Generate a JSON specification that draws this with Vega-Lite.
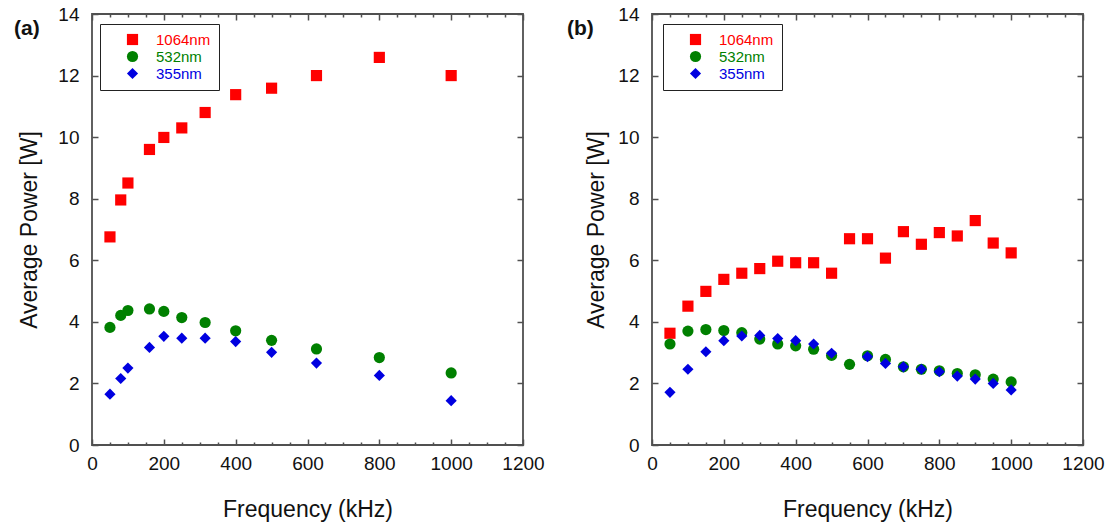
{
  "$schema": "https://vega.github.io/schema/vega-lite/v6.json",
  "padding": {"left": 13, "top": 4, "right": 5, "bottom": 5},
  "background": "white",
  "config": {
    "font": "Liberation Sans",
    "view": {"stroke": "#505050", "strokeWidth": 1.8},
    "axis": {"grid": false, "domain": false, "tickColor": "#505050", "tickWidth": 1.5, "labelColor": "#111", "labelFontSize": 19, "labelFont": "Liberation Sans", "titleColor": "#111", "titleFontSize": 23, "titleFontWeight": "normal", "titleFont": "Liberation Sans", "labelFlush": false, "labelOverlap": false},
    "legend": {"title": null, "orient": "none", "legendY": 10, "padding": 8, "symbolOffset": 17, "labelOffset": 16, "labelFontSize": 15, "symbolSize": 125, "rowPadding": 1, "strokeColor": "#222", "labelFont": "Liberation Sans",
      "labelColor": {"expr": "datum.value === '1064nm' ? '#ff0000' : datum.value === '532nm' ? '#008000' : '#0000e0'"}}
  },
  "datasets": {
    "a": [
      {"f": 50, "p": 6.76, "wl": "1064nm"}, {"f": 80, "p": 7.96, "wl": "1064nm"}, {"f": 100, "p": 8.51, "wl": "1064nm"}, {"f": 160, "p": 9.6, "wl": "1064nm"}, {"f": 200, "p": 9.99, "wl": "1064nm"}, {"f": 250, "p": 10.3, "wl": "1064nm"}, {"f": 315, "p": 10.8, "wl": "1064nm"}, {"f": 400, "p": 11.38, "wl": "1064nm"}, {"f": 500, "p": 11.59, "wl": "1064nm"}, {"f": 625, "p": 12.0, "wl": "1064nm"}, {"f": 800, "p": 12.59, "wl": "1064nm"}, {"f": 1000, "p": 12.0, "wl": "1064nm"},
      {"f": 50, "p": 3.82, "wl": "532nm"}, {"f": 80, "p": 4.21, "wl": "532nm"}, {"f": 100, "p": 4.37, "wl": "532nm"}, {"f": 160, "p": 4.42, "wl": "532nm"}, {"f": 200, "p": 4.34, "wl": "532nm"}, {"f": 250, "p": 4.14, "wl": "532nm"}, {"f": 315, "p": 3.98, "wl": "532nm"}, {"f": 400, "p": 3.71, "wl": "532nm"}, {"f": 500, "p": 3.4, "wl": "532nm"}, {"f": 625, "p": 3.12, "wl": "532nm"}, {"f": 800, "p": 2.84, "wl": "532nm"}, {"f": 1000, "p": 2.34, "wl": "532nm"},
      {"f": 50, "p": 1.65, "wl": "355nm"}, {"f": 80, "p": 2.16, "wl": "355nm"}, {"f": 100, "p": 2.5, "wl": "355nm"}, {"f": 160, "p": 3.17, "wl": "355nm"}, {"f": 200, "p": 3.53, "wl": "355nm"}, {"f": 250, "p": 3.47, "wl": "355nm"}, {"f": 315, "p": 3.47, "wl": "355nm"}, {"f": 400, "p": 3.36, "wl": "355nm"}, {"f": 500, "p": 3.01, "wl": "355nm"}, {"f": 625, "p": 2.66, "wl": "355nm"}, {"f": 800, "p": 2.26, "wl": "355nm"}, {"f": 1000, "p": 1.44, "wl": "355nm"}
    ],
    "b": [
      {"f": 50, "p": 3.63, "wl": "1064nm"}, {"f": 100, "p": 4.51, "wl": "1064nm"}, {"f": 150, "p": 4.99, "wl": "1064nm"}, {"f": 200, "p": 5.38, "wl": "1064nm"}, {"f": 250, "p": 5.58, "wl": "1064nm"}, {"f": 300, "p": 5.73, "wl": "1064nm"}, {"f": 350, "p": 5.97, "wl": "1064nm"}, {"f": 400, "p": 5.92, "wl": "1064nm"}, {"f": 450, "p": 5.92, "wl": "1064nm"}, {"f": 500, "p": 5.58, "wl": "1064nm"}, {"f": 550, "p": 6.7, "wl": "1064nm"}, {"f": 600, "p": 6.7, "wl": "1064nm"}, {"f": 650, "p": 6.07, "wl": "1064nm"}, {"f": 700, "p": 6.93, "wl": "1064nm"}, {"f": 750, "p": 6.52, "wl": "1064nm"}, {"f": 800, "p": 6.9, "wl": "1064nm"}, {"f": 850, "p": 6.79, "wl": "1064nm"}, {"f": 900, "p": 7.29, "wl": "1064nm"}, {"f": 950, "p": 6.56, "wl": "1064nm"}, {"f": 1000, "p": 6.24, "wl": "1064nm"},
      {"f": 50, "p": 3.28, "wl": "532nm"}, {"f": 100, "p": 3.7, "wl": "532nm"}, {"f": 150, "p": 3.75, "wl": "532nm"}, {"f": 200, "p": 3.72, "wl": "532nm"}, {"f": 250, "p": 3.65, "wl": "532nm"}, {"f": 300, "p": 3.44, "wl": "532nm"}, {"f": 350, "p": 3.28, "wl": "532nm"}, {"f": 400, "p": 3.22, "wl": "532nm"}, {"f": 450, "p": 3.11, "wl": "532nm"}, {"f": 500, "p": 2.91, "wl": "532nm"}, {"f": 550, "p": 2.62, "wl": "532nm"}, {"f": 600, "p": 2.9, "wl": "532nm"}, {"f": 650, "p": 2.78, "wl": "532nm"}, {"f": 700, "p": 2.54, "wl": "532nm"}, {"f": 750, "p": 2.46, "wl": "532nm"}, {"f": 800, "p": 2.41, "wl": "532nm"}, {"f": 850, "p": 2.32, "wl": "532nm"}, {"f": 900, "p": 2.28, "wl": "532nm"}, {"f": 950, "p": 2.14, "wl": "532nm"}, {"f": 1000, "p": 2.05, "wl": "532nm"},
      {"f": 50, "p": 1.71, "wl": "355nm"}, {"f": 100, "p": 2.46, "wl": "355nm"}, {"f": 150, "p": 3.03, "wl": "355nm"}, {"f": 200, "p": 3.39, "wl": "355nm"}, {"f": 250, "p": 3.54, "wl": "355nm"}, {"f": 300, "p": 3.56, "wl": "355nm"}, {"f": 350, "p": 3.46, "wl": "355nm"}, {"f": 400, "p": 3.39, "wl": "355nm"}, {"f": 450, "p": 3.28, "wl": "355nm"}, {"f": 500, "p": 2.98, "wl": "355nm"}, {"f": 600, "p": 2.87, "wl": "355nm"}, {"f": 650, "p": 2.65, "wl": "355nm"}, {"f": 700, "p": 2.54, "wl": "355nm"}, {"f": 750, "p": 2.46, "wl": "355nm"}, {"f": 800, "p": 2.38, "wl": "355nm"}, {"f": 850, "p": 2.24, "wl": "355nm"}, {"f": 900, "p": 2.14, "wl": "355nm"}, {"f": 950, "p": 2.0, "wl": "355nm"}, {"f": 1000, "p": 1.79, "wl": "355nm"}
    ]
  },
  "spacing": 20,
  "resolve": {"scale": {"color": "independent", "shape": "independent", "size": "independent"}, "legend": {"color": "independent", "shape": "independent"}},
  "hconcat": [
    {
      "title": {"text": "(a)", "anchor": "start", "frame": "group", "orient": "top", "offset": -34, "dx": -78, "fontSize": 21, "fontWeight": "bold", "color": "#111", "font": "Liberation Sans"},
      "width": 431, "height": 431,
      "data": {"name": "a"},
      "layer": [
        {
          "mark": {"type": "point", "filled": true, "opacity": 1},
          "encoding": {
            "x": {"field": "f", "type": "quantitative", "scale": {"domain": [0, 1200], "nice": false, "zero": true},
              "axis": {"orient": "bottom", "format": "d", "values": [0, 50, 100, 150, 200, 250, 300, 350, 400, 450, 500, 550, 600, 650, 700, 750, 800, 850, 900, 950, 1000, 1050, 1100, 1150, 1200], "labelExpr": "datum.value % 200 === 0 ? datum.label : ''", "tickSize": {"condition": {"test": "datum.value % 200 === 0", "value": -6}, "value": -3}, "labelPadding": 15, "title": "Frequency (kHz)", "titlePadding": 22}},
            "y": {"field": "p", "type": "quantitative", "scale": {"domain": [0, 14], "nice": false},
              "axis": {"orient": "left", "values": [0, 2, 4, 6, 8, 10, 12, 14], "tickSize": -6, "labelPadding": 19, "title": "Average Power [W]", "titlePadding": 16}},
            "color": {"field": "wl", "type": "nominal", "scale": {"domain": ["1064nm", "532nm", "355nm"], "range": ["#ff0000", "#008000", "#0000e0"]},
              "legend": {"legendX": 8, "labelColor": {"expr": "datum.value === '1064nm' ? '#ff0000' : datum.value === '532nm' ? '#008000' : '#0000e0'"}}},
            "shape": {"field": "wl", "type": "nominal", "scale": {"domain": ["1064nm", "532nm", "355nm"], "range": ["square", "circle", "diamond"]},
              "legend": {"legendX": 8, "labelColor": {"expr": "datum.value === '1064nm' ? '#ff0000' : datum.value === '532nm' ? '#008000' : '#0000e0'"}}},
            "size": {"field": "wl", "type": "nominal", "scale": {"domain": ["1064nm", "532nm", "355nm"], "range": [125, 125, 100]}, "legend": null}
          }
        },
        {
          "mark": {"type": "point", "opacity": 0},
          "encoding": {
            "x": {"field": "f", "type": "quantitative", "axis": {"orient": "top", "values": [0, 50, 100, 150, 200, 250, 300, 350, 400, 450, 500, 550, 600, 650, 700, 750, 800, 850, 900, 950, 1000, 1050, 1100, 1150, 1200], "labels": false, "title": null, "tickSize": {"condition": {"test": "datum.value % 200 === 0", "value": -6}, "value": -3}}},
            "y": {"field": "p", "type": "quantitative", "axis": {"orient": "right", "values": [0, 2, 4, 6, 8, 10, 12, 14], "labels": false, "title": null, "tickSize": -6}}
          }
        }
      ],
      "resolve": {"axis": {"x": "independent", "y": "independent"}}
    },
    {
      "title": {"text": "(b)", "anchor": "start", "frame": "group", "orient": "top", "offset": -34, "dx": -85, "fontSize": 21, "fontWeight": "bold", "color": "#111", "font": "Liberation Sans"},
      "width": 431, "height": 431,
      "data": {"name": "b"},
      "layer": [
        {
          "mark": {"type": "point", "filled": true, "opacity": 1},
          "encoding": {
            "x": {"field": "f", "type": "quantitative", "scale": {"domain": [0, 1200], "nice": false, "zero": true},
              "axis": {"orient": "bottom", "format": "d", "values": [0, 50, 100, 150, 200, 250, 300, 350, 400, 450, 500, 550, 600, 650, 700, 750, 800, 850, 900, 950, 1000, 1050, 1100, 1150, 1200], "labelExpr": "datum.value % 200 === 0 ? datum.label : ''", "tickSize": {"condition": {"test": "datum.value % 200 === 0", "value": -6}, "value": -3}, "labelPadding": 15, "title": "Frequency (kHz)", "titlePadding": 22}},
            "y": {"field": "p", "type": "quantitative", "scale": {"domain": [0, 14], "nice": false},
              "axis": {"orient": "left", "values": [0, 2, 4, 6, 8, 10, 12, 14], "tickSize": -6, "labelPadding": 19, "title": "Average Power [W]", "titlePadding": 9}},
            "color": {"field": "wl", "type": "nominal", "scale": {"domain": ["1064nm", "532nm", "355nm"], "range": ["#ff0000", "#008000", "#0000e0"]},
              "legend": {"legendX": 11, "labelColor": {"expr": "datum.value === '1064nm' ? '#ff0000' : datum.value === '532nm' ? '#008000' : '#0000e0'"}}},
            "shape": {"field": "wl", "type": "nominal", "scale": {"domain": ["1064nm", "532nm", "355nm"], "range": ["square", "circle", "diamond"]},
              "legend": {"legendX": 11, "labelColor": {"expr": "datum.value === '1064nm' ? '#ff0000' : datum.value === '532nm' ? '#008000' : '#0000e0'"}}},
            "size": {"field": "wl", "type": "nominal", "scale": {"domain": ["1064nm", "532nm", "355nm"], "range": [125, 125, 100]}, "legend": null}
          }
        },
        {
          "mark": {"type": "point", "opacity": 0},
          "encoding": {
            "x": {"field": "f", "type": "quantitative", "axis": {"orient": "top", "values": [0, 50, 100, 150, 200, 250, 300, 350, 400, 450, 500, 550, 600, 650, 700, 750, 800, 850, 900, 950, 1000, 1050, 1100, 1150, 1200], "labels": false, "title": null, "tickSize": {"condition": {"test": "datum.value % 200 === 0", "value": -6}, "value": -3}}},
            "y": {"field": "p", "type": "quantitative", "axis": {"orient": "right", "values": [0, 2, 4, 6, 8, 10, 12, 14], "labels": false, "title": null, "tickSize": -6}}
          }
        }
      ],
      "resolve": {"axis": {"x": "independent", "y": "independent"}}
    }
  ]
}
